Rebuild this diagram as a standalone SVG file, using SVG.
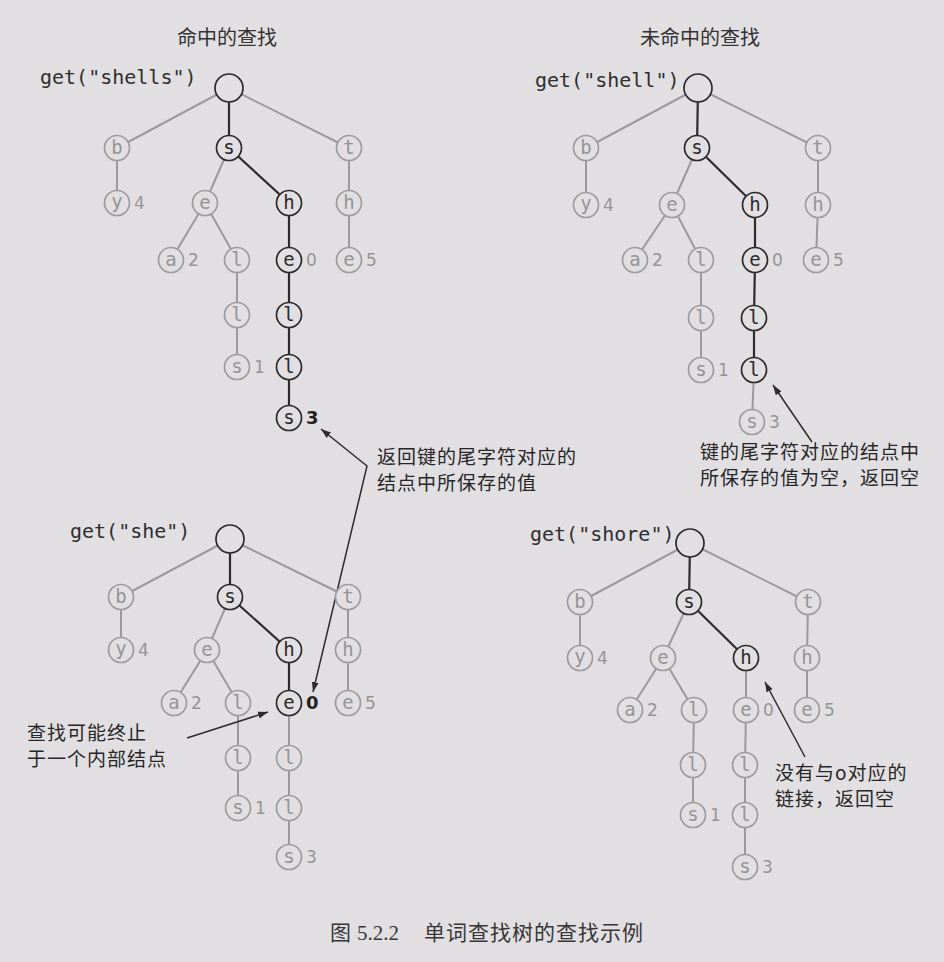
<svg xmlns="http://www.w3.org/2000/svg" width="944" height="962" viewBox="0 0 944 962">
<style>
.bg{fill:#e2dfe2}
.eg{stroke:#9a9a9a;stroke-width:2}
.ek{stroke:#2c2c2c;stroke-width:2.2}
.n circle{fill:#e2dfe2;stroke-width:1.7}
.g circle{stroke:#9c9c9c}
.k circle{stroke:#2a2a2a}
.n text{font-family:"DejaVu Sans Mono",monospace;font-size:19px;text-anchor:middle}
.g text{fill:#949494}
.k text{fill:#2a2a2a}
.n text.v{font-family:"DejaVu Sans",sans-serif;font-size:17px;text-anchor:start;fill:#949494}
.n text.vb{font-family:"DejaVu Sans",sans-serif;font-size:18px;text-anchor:start;font-weight:bold;fill:#222}
.code{font-family:"DejaVu Sans Mono",monospace;font-size:20px;fill:#2e2e2e}
.cn{font-family:"Noto Sans CJK SC",sans-serif;font-size:19px;letter-spacing:1px;fill:#262626}
.hd{font-family:"Noto Sans CJK SC",sans-serif;font-size:20px;fill:#333;text-anchor:middle}
.cap{font-family:"Liberation Serif","Noto Sans CJK SC",serif;font-size:21px;fill:#363636}
.ar{stroke:#2c2c2c;stroke-width:1.5;fill:none}
</style>
<defs>
<marker id="ah" viewBox="0 0 10 7" refX="10" refY="3.5" markerWidth="10" markerHeight="7" markerUnits="userSpaceOnUse" orient="auto-start-reverse">
<path d="M0,0 L10,3.5 L0,7 z" fill="#2c2c2c"/>
</marker>
</defs>
<rect class="bg" x="0" y="0" width="944" height="962"/>

<text class="hd" x="227" y="45">命中的查找</text>
<text class="hd" x="700" y="45">未命中的查找</text>
<text class="code" x="40" y="84">get("shells")</text>
<text class="code" x="535" y="87">get("shell")</text>
<text class="code" x="70" y="538">get("she")</text>
<text class="code" x="530" y="541">get("shore")</text>

<g id="connectors">
<!-- tree 1 -->
<line class="eg" x1="229" y1="88" x2="117" y2="148"/>
<line class="ek" x1="229" y1="88" x2="229" y2="148"/>
<line class="eg" x1="229" y1="88" x2="349" y2="148"/>
<line class="eg" x1="117" y1="148" x2="117" y2="203"/>
<line class="eg" x1="229" y1="148" x2="205" y2="203"/>
<line class="ek" x1="229" y1="148" x2="289" y2="203"/>
<line class="eg" x1="349" y1="148" x2="349" y2="203"/>
<line class="eg" x1="205" y1="203" x2="171" y2="260"/>
<line class="eg" x1="205" y1="203" x2="237" y2="260"/>
<line class="ek" x1="289" y1="203" x2="289" y2="260"/>
<line class="eg" x1="349" y1="203" x2="349" y2="260"/>
<line class="eg" x1="237" y1="260" x2="237" y2="315"/>
<line class="ek" x1="289" y1="260" x2="289" y2="315"/>
<line class="eg" x1="237" y1="315" x2="237" y2="367"/>
<line class="ek" x1="289" y1="315" x2="289" y2="367"/>
<line class="ek" x1="289" y1="367" x2="289" y2="418"/>
<!-- tree 2 -->
<line class="eg" x1="698" y1="88" x2="586" y2="148"/>
<line class="ek" x1="698" y1="88" x2="697" y2="148"/>
<line class="eg" x1="698" y1="88" x2="818" y2="148"/>
<line class="eg" x1="586" y1="148" x2="586" y2="205"/>
<line class="eg" x1="697" y1="148" x2="672" y2="205"/>
<line class="ek" x1="697" y1="148" x2="755" y2="205"/>
<line class="eg" x1="818" y1="148" x2="818" y2="205"/>
<line class="eg" x1="672" y1="205" x2="635" y2="260"/>
<line class="eg" x1="672" y1="205" x2="701" y2="260"/>
<line class="ek" x1="755" y1="205" x2="755" y2="260"/>
<line class="eg" x1="818" y1="205" x2="816" y2="260"/>
<line class="eg" x1="701" y1="260" x2="701" y2="318"/>
<line class="ek" x1="755" y1="260" x2="754" y2="318"/>
<line class="eg" x1="701" y1="318" x2="701" y2="370"/>
<line class="ek" x1="754" y1="318" x2="754" y2="370"/>
<line class="eg" x1="754" y1="370" x2="752" y2="422"/>
<!-- tree 3 -->
<line class="eg" x1="230" y1="539" x2="121" y2="597"/>
<line class="ek" x1="230" y1="539" x2="230" y2="597"/>
<line class="eg" x1="230" y1="539" x2="348" y2="597"/>
<line class="eg" x1="121" y1="597" x2="121" y2="650"/>
<line class="eg" x1="230" y1="597" x2="207" y2="650"/>
<line class="ek" x1="230" y1="597" x2="289" y2="650"/>
<line class="eg" x1="348" y1="597" x2="348" y2="650"/>
<line class="eg" x1="207" y1="650" x2="174" y2="703"/>
<line class="eg" x1="207" y1="650" x2="238" y2="703"/>
<line class="ek" x1="289" y1="650" x2="289" y2="703"/>
<line class="eg" x1="348" y1="650" x2="348" y2="703"/>
<line class="eg" x1="238" y1="703" x2="238" y2="758"/>
<line class="eg" x1="289" y1="703" x2="289" y2="758"/>
<line class="eg" x1="238" y1="758" x2="238" y2="808"/>
<line class="eg" x1="289" y1="758" x2="289" y2="808"/>
<line class="eg" x1="289" y1="808" x2="289" y2="857"/>
<!-- tree 4 -->
<line class="eg" x1="690" y1="543" x2="580" y2="602"/>
<line class="ek" x1="690" y1="543" x2="689" y2="602"/>
<line class="eg" x1="690" y1="543" x2="808" y2="602"/>
<line class="eg" x1="580" y1="602" x2="580" y2="658"/>
<line class="eg" x1="689" y1="602" x2="663" y2="658"/>
<line class="ek" x1="689" y1="602" x2="746" y2="658"/>
<line class="eg" x1="808" y1="602" x2="807" y2="658"/>
<line class="eg" x1="663" y1="658" x2="630" y2="710"/>
<line class="eg" x1="663" y1="658" x2="694" y2="710"/>
<line class="eg" x1="746" y1="658" x2="746" y2="710"/>
<line class="eg" x1="807" y1="658" x2="807" y2="710"/>
<line class="eg" x1="694" y1="710" x2="693" y2="765"/>
<line class="eg" x1="746" y1="710" x2="745" y2="765"/>
<line class="eg" x1="693" y1="765" x2="693" y2="815"/>
<line class="eg" x1="745" y1="765" x2="745" y2="815"/>
<line class="eg" x1="745" y1="815" x2="745" y2="867"/>
<!-- annotation arrows -->
<path class="ar" d="M321,429 L367,466 L313,692" marker-start="url(#ah)" marker-end="url(#ah)"/>
<path class="ar" d="M812,442 L773,385" marker-end="url(#ah)"/>
<path class="ar" d="M187,738 L268,712" marker-end="url(#ah)"/>
<path class="ar" d="M805,757 L765,682" marker-end="url(#ah)"/>
</g>

<!-- tree 1 nodes -->
<g id="t1-root" class="n k"><circle cx="229" cy="88" r="14"/></g>
<g id="t1-b" class="n g"><circle cx="117" cy="148" r="12.5"/><text x="117" y="154">b</text></g>
<g id="t1-s" class="n k"><circle cx="229" cy="148" r="12.5"/><text x="229" y="154">s</text></g>
<g id="t1-t" class="n g"><circle cx="349" cy="148" r="12.5"/><text x="349" y="154">t</text></g>
<g id="t1-y" class="n g"><circle cx="117" cy="203" r="12.5"/><text x="117" y="208">y</text><text class="v" x="134" y="209">4</text></g>
<g id="t1-se" class="n g"><circle cx="205" cy="203" r="12.5"/><text x="205" y="209">e</text></g>
<g id="t1-sh" class="n k"><circle cx="289" cy="203" r="12.5"/><text x="289" y="209">h</text></g>
<g id="t1-th" class="n g"><circle cx="349" cy="203" r="12.5"/><text x="349" y="209">h</text></g>
<g id="t1-sea" class="n g"><circle cx="171" cy="260" r="12.5"/><text x="171" y="266">a</text><text class="v" x="188" y="266">2</text></g>
<g id="t1-sel" class="n g"><circle cx="237" cy="260" r="12.5"/><text x="237" y="266">l</text></g>
<g id="t1-she" class="n k"><circle cx="289" cy="260" r="12.5"/><text x="289" y="266">e</text><text class="v" x="306" y="266">0</text></g>
<g id="t1-the" class="n g"><circle cx="349" cy="260" r="12.5"/><text x="349" y="266">e</text><text class="v" x="366" y="266">5</text></g>
<g id="t1-sell" class="n g"><circle cx="237" cy="315" r="12.5"/><text x="237" y="321">l</text></g>
<g id="t1-shel" class="n k"><circle cx="289" cy="315" r="12.5"/><text x="289" y="321">l</text></g>
<g id="t1-sells" class="n g"><circle cx="237" cy="367" r="12.5"/><text x="237" y="373">s</text><text class="v" x="254" y="373">1</text></g>
<g id="t1-shell" class="n k"><circle cx="289" cy="367" r="12.5"/><text x="289" y="373">l</text></g>
<g id="t1-shells" class="n k"><circle cx="289" cy="418" r="12.5"/><text x="289" y="424">s</text><text class="vb" x="306" y="424">3</text></g>

<!-- tree 2 nodes -->
<g id="t2-root" class="n k"><circle cx="698" cy="88" r="14"/></g>
<g id="t2-b" class="n g"><circle cx="586" cy="148" r="12.5"/><text x="586" y="154">b</text></g>
<g id="t2-s" class="n k"><circle cx="697" cy="148" r="12.5"/><text x="697" y="154">s</text></g>
<g id="t2-t" class="n g"><circle cx="818" cy="148" r="12.5"/><text x="818" y="154">t</text></g>
<g id="t2-y" class="n g"><circle cx="586" cy="205" r="12.5"/><text x="586" y="210">y</text><text class="v" x="603" y="211">4</text></g>
<g id="t2-se" class="n g"><circle cx="672" cy="205" r="12.5"/><text x="672" y="211">e</text></g>
<g id="t2-sh" class="n k"><circle cx="755" cy="205" r="12.5"/><text x="755" y="211">h</text></g>
<g id="t2-th" class="n g"><circle cx="818" cy="205" r="12.5"/><text x="818" y="211">h</text></g>
<g id="t2-sea" class="n g"><circle cx="635" cy="260" r="12.5"/><text x="635" y="266">a</text><text class="v" x="652" y="266">2</text></g>
<g id="t2-sel" class="n g"><circle cx="701" cy="260" r="12.5"/><text x="701" y="266">l</text></g>
<g id="t2-she" class="n k"><circle cx="755" cy="260" r="12.5"/><text x="755" y="266">e</text><text class="v" x="772" y="266">0</text></g>
<g id="t2-the" class="n g"><circle cx="816" cy="260" r="12.5"/><text x="816" y="266">e</text><text class="v" x="833" y="266">5</text></g>
<g id="t2-sell" class="n g"><circle cx="701" cy="318" r="12.5"/><text x="701" y="324">l</text></g>
<g id="t2-shel" class="n k"><circle cx="754" cy="318" r="12.5"/><text x="754" y="324">l</text></g>
<g id="t2-sells" class="n g"><circle cx="701" cy="370" r="12.5"/><text x="701" y="376">s</text><text class="v" x="718" y="376">1</text></g>
<g id="t2-shell" class="n k"><circle cx="754" cy="370" r="12.5"/><text x="754" y="376">l</text></g>
<g id="t2-shells" class="n g"><circle cx="752" cy="422" r="12.5"/><text x="752" y="428">s</text><text class="v" x="769" y="428">3</text></g>

<!-- tree 3 nodes -->
<g id="t3-root" class="n k"><circle cx="230" cy="539" r="14"/></g>
<g id="t3-b" class="n g"><circle cx="121" cy="597" r="12.5"/><text x="121" y="603">b</text></g>
<g id="t3-s" class="n k"><circle cx="230" cy="597" r="12.5"/><text x="230" y="603">s</text></g>
<g id="t3-t" class="n g"><circle cx="348" cy="597" r="12.5"/><text x="348" y="603">t</text></g>
<g id="t3-y" class="n g"><circle cx="121" cy="650" r="12.5"/><text x="121" y="655">y</text><text class="v" x="138" y="656">4</text></g>
<g id="t3-se" class="n g"><circle cx="207" cy="650" r="12.5"/><text x="207" y="656">e</text></g>
<g id="t3-sh" class="n k"><circle cx="289" cy="650" r="12.5"/><text x="289" y="656">h</text></g>
<g id="t3-th" class="n g"><circle cx="348" cy="650" r="12.5"/><text x="348" y="656">h</text></g>
<g id="t3-sea" class="n g"><circle cx="174" cy="703" r="12.5"/><text x="174" y="709">a</text><text class="v" x="191" y="709">2</text></g>
<g id="t3-sel" class="n g"><circle cx="238" cy="703" r="12.5"/><text x="238" y="709">l</text></g>
<g id="t3-she" class="n k"><circle cx="289" cy="703" r="12.5"/><text x="289" y="709">e</text><text class="vb" x="306" y="709">0</text></g>
<g id="t3-the" class="n g"><circle cx="348" cy="703" r="12.5"/><text x="348" y="709">e</text><text class="v" x="365" y="709">5</text></g>
<g id="t3-sell" class="n g"><circle cx="238" cy="758" r="12.5"/><text x="238" y="764">l</text></g>
<g id="t3-shel" class="n g"><circle cx="289" cy="758" r="12.5"/><text x="289" y="764">l</text></g>
<g id="t3-sells" class="n g"><circle cx="238" cy="808" r="12.5"/><text x="238" y="814">s</text><text class="v" x="255" y="814">1</text></g>
<g id="t3-shell" class="n g"><circle cx="289" cy="808" r="12.5"/><text x="289" y="814">l</text></g>
<g id="t3-shells" class="n g"><circle cx="289" cy="857" r="12.5"/><text x="289" y="863">s</text><text class="v" x="306" y="863">3</text></g>

<!-- tree 4 nodes -->
<g id="t4-root" class="n k"><circle cx="690" cy="543" r="14"/></g>
<g id="t4-b" class="n g"><circle cx="580" cy="602" r="12.5"/><text x="580" y="608">b</text></g>
<g id="t4-s" class="n k"><circle cx="689" cy="602" r="12.5"/><text x="689" y="608">s</text></g>
<g id="t4-t" class="n g"><circle cx="808" cy="602" r="12.5"/><text x="808" y="608">t</text></g>
<g id="t4-y" class="n g"><circle cx="580" cy="658" r="12.5"/><text x="580" y="663">y</text><text class="v" x="597" y="664">4</text></g>
<g id="t4-se" class="n g"><circle cx="663" cy="658" r="12.5"/><text x="663" y="664">e</text></g>
<g id="t4-sh" class="n k"><circle cx="746" cy="658" r="12.5"/><text x="746" y="664">h</text></g>
<g id="t4-th" class="n g"><circle cx="807" cy="658" r="12.5"/><text x="807" y="664">h</text></g>
<g id="t4-sea" class="n g"><circle cx="630" cy="710" r="12.5"/><text x="630" y="716">a</text><text class="v" x="647" y="716">2</text></g>
<g id="t4-sel" class="n g"><circle cx="694" cy="710" r="12.5"/><text x="694" y="716">l</text></g>
<g id="t4-she" class="n g"><circle cx="746" cy="710" r="12.5"/><text x="746" y="716">e</text><text class="v" x="763" y="716">0</text></g>
<g id="t4-the" class="n g"><circle cx="807" cy="710" r="12.5"/><text x="807" y="716">e</text><text class="v" x="824" y="716">5</text></g>
<g id="t4-sell" class="n g"><circle cx="693" cy="765" r="12.5"/><text x="693" y="771">l</text></g>
<g id="t4-shel" class="n g"><circle cx="745" cy="765" r="12.5"/><text x="745" y="771">l</text></g>
<g id="t4-sells" class="n g"><circle cx="693" cy="815" r="12.5"/><text x="693" y="821">s</text><text class="v" x="710" y="821">1</text></g>
<g id="t4-shell" class="n g"><circle cx="745" cy="815" r="12.5"/><text x="745" y="821">l</text></g>
<g id="t4-shells" class="n g"><circle cx="745" cy="867" r="12.5"/><text x="745" y="873">s</text><text class="v" x="762" y="873">3</text></g>

<!-- annotations -->
<text class="cn" x="377" y="464">返回键的尾字符对应的</text>
<text class="cn" x="377" y="490">结点中所保存的值</text>
<text class="cn" x="700" y="459">键的尾字符对应的结点中</text>
<text class="cn" x="700" y="485">所保存的值为空，返回空</text>
<text class="cn" x="27" y="740">查找可能终止</text>
<text class="cn" x="27" y="766">于一个内部结点</text>
<text class="cn" x="775" y="780">没有与o对应的</text>
<text class="cn" x="775" y="806">链接，返回空</text>

<text class="cap" x="330" y="940">图</text>
<text class="cap" x="357" y="940">5.2.2</text>
<text class="cap" x="424" y="940" letter-spacing="1">单词查找树的查找示例</text>
</svg>
